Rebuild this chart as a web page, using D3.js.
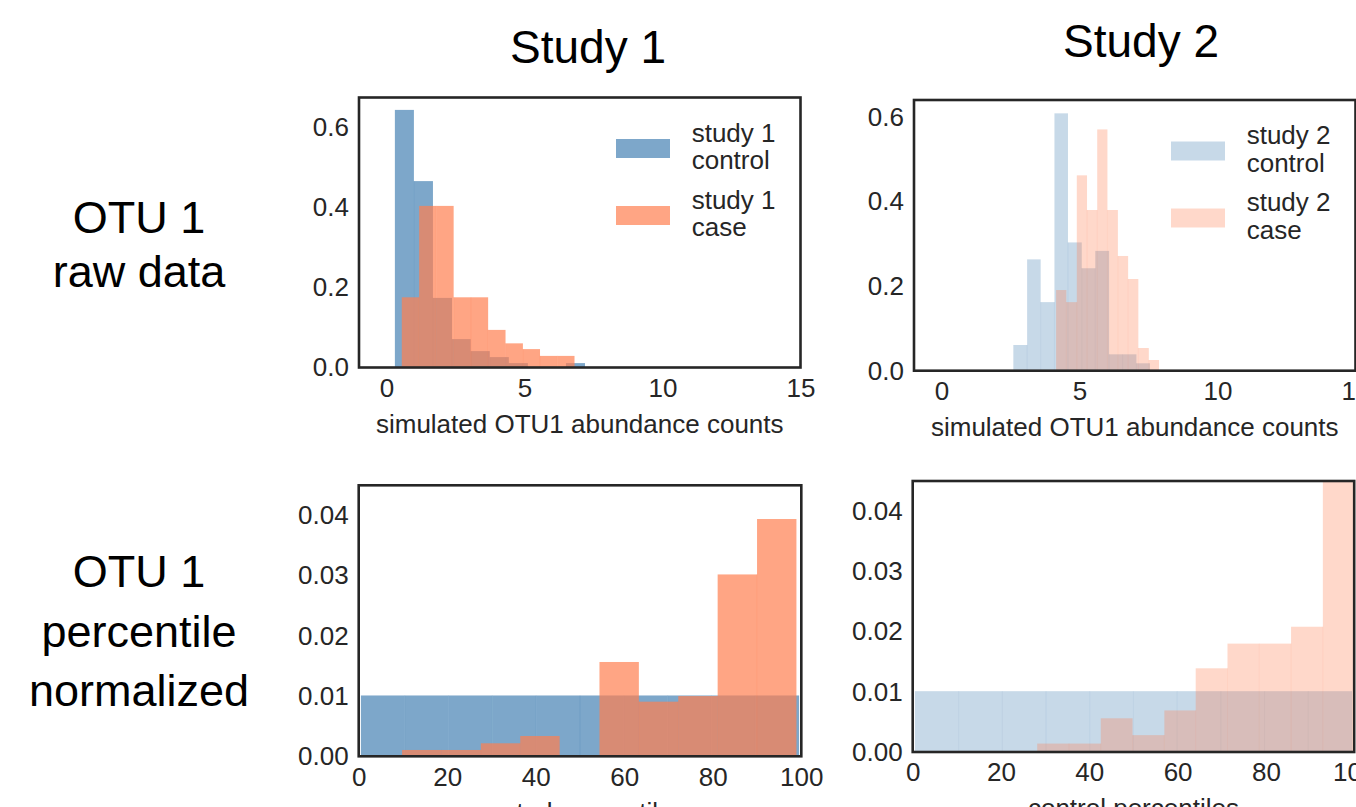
<!DOCTYPE html>
<html>
<head>
<meta charset="utf-8">
<script src="https://cdn.jsdelivr.net/npm/d3@7"></script>
<style>
	body { margin: 0; background: #fff; }
	svg { display: block; font-family: "Liberation Sans", Arial, sans-serif; }
</style>
</head>
<body>
<svg id="chart" width="1356" height="807"></svg>
<script>
// tick labels
var rawXTicks = [0, 5, 10, 15];
var rawYTicks = [0, 0.2, 0.4, 0.6];
var pctXTicks = [0, 20, 40, 60, 80, 100];
var pctYTicks = [0, 0.01, 0.02, 0.03, 0.04];

var studyTitles = ["Study 1", "Study 2"];
var rowLabels = [["OTU 1", "raw data"], ["OTU 1", "percentile", "normalized"]];

// raw counts, density histograms (bin edges + heights)
var study1ControlEdges = [0.30, 0.99, 1.68, 2.37, 3.05, 3.74, 4.43, 5.12, 5.81, 6.50, 7.19];
var study1ControlDensity = [0.644, 0.466, 0.174, 0.071, 0.041, 0.026, 0.011, 0, 0, 0.011];
var study1CaseEdges = [0.55, 1.18, 1.80, 2.43, 3.06, 3.68, 4.31, 4.94, 5.56, 6.19, 6.81];
var study1CaseDensity = [0.1755, 0.404, 0.404, 0.1755, 0.1755, 0.094, 0.0604, 0.046, 0.029, 0.029];

var study2ControlEdges = [2.60, 3.10, 3.59, 4.09, 4.58, 5.08, 5.57, 6.07, 6.56, 7.06, 7.55];
var study2ControlDensity = [0.0607, 0.263, 0.162, 0.608, 0.303, 0.242, 0.283, 0.0387, 0.0387, 0.0175];
var study2CaseEdges = [4.15, 4.52, 4.90, 5.27, 5.64, 6.01, 6.39, 6.76, 7.13, 7.51, 7.88];
var study2CaseDensity = [0.1906, 0.162, 0.4615, 0.3796, 0.570, 0.3796, 0.271, 0.2166, 0.0536, 0.0253];

// percentile normalized
var pctControlEdges = [0.5, 10.4, 20.3, 30.2, 40.1, 50.0, 59.9, 69.8, 79.7, 89.6, 99.5];
var pctControlDensity = [0.0101, 0.0101, 0.0101, 0.0101, 0.0101, 0.0101, 0.0101, 0.0101, 0.0101, 0.0101];
var study1PctCaseEdges = [9.8, 18.7, 27.6, 36.5, 45.4, 54.4, 63.3, 72.2, 81.1, 90.0, 98.9];
var study1PctCaseDensity = [0.00105, 0.00105, 0.00216, 0.00337, 0, 0.01566, 0.00907, 0.0100, 0.0302, 0.0394];
var study2PctCaseEdges = [28.2, 35.4, 42.6, 49.8, 57.0, 64.1, 71.3, 78.5, 85.7, 92.9, 100.0];
var study2PctCaseDensity = [0.0014, 0.0014, 0.0056, 0.0028, 0.0069, 0.0139, 0.0180, 0.0180, 0.0208, 0.0510];

var controlColor = "steelblue",
	caseColor = "coral",
	textColor = "#262626",
	fontSize = 26;

var svg = d3.select("#chart");

function makePanel(svg, id, box, opts)
{
	var x = d3.scaleLinear()
		.domain(opts.xDomain)
		.range([box.left, box.left + box.width]);
	var y = d3.scaleLinear()
		.domain(opts.yDomain)
		.range([box.top + box.height, box.top]);

	svg.append("clipPath")
		.attr("id", id)
		.append("rect")
			.attr("x", box.left)
			.attr("y", box.top)
			.attr("width", box.width)
			.attr("height", box.height);

	var g = svg.append("g").attr("clip-path", "url(#" + id + ")");

	opts.series.forEach(function(s)
	{
		var bins = s.heights.map(function(h, i){ return {x0: s.edges[i], x1: s.edges[i + 1], h: h}; });

		g.append("g")
			.selectAll("rect")
			.data(bins)
			.enter().append("rect")
				.attr("x", function(d){ return x(d.x0); })
				.attr("width", function(d){ return x(d.x1) - x(d.x0); })
				.attr("y", function(d){ return y(d.h); })
				.attr("height", function(d){ return y(0) - y(d.h); })
				.attr("fill", s.color)
				.attr("fill-opacity", s.alpha);

		// faint seams where neighbouring bars meet
		var seams = bins.slice(1).map(function(d, i){ return {x: d.x0, h: Math.min(d.h, bins[i].h)}; })
			.filter(function(d){ return d.h > 0; });
		g.append("g")
			.selectAll("line")
			.data(seams)
			.enter().append("line")
				.attr("x1", function(d){ return x(d.x); })
				.attr("x2", function(d){ return x(d.x); })
				.attr("y1", y(0))
				.attr("y2", function(d){ return y(d.h); })
				.attr("stroke", s.color)
				.attr("stroke-opacity", s.alpha * 0.4)
				.attr("stroke-width", 0.8);
	});

	var xAxis = svg.append("g")
		.attr("transform", "translate(0," + (box.top + box.height) + ")")
		.call(d3.axisBottom(x).tickValues(opts.xTicks).tickSize(0).tickPadding(11).tickFormat(d3.format("d")));
	var yAxis = svg.append("g")
		.attr("transform", "translate(" + box.left + ",0)")
		.call(d3.axisLeft(y).tickValues(opts.yTicks).tickSize(0).tickPadding(10).tickFormat(d3.format(opts.yFormat)));

	[xAxis, yAxis].forEach(function(a)
	{
		a.select(".domain").remove();
		a.attr("font-family", null).attr("font-size", null);
		a.selectAll("text")
			.attr("font-size", fontSize)
			.attr("fill", textColor);
	});

	svg.append("text")
		.attr("x", box.left + box.width / 2)
		.attr("y", box.top + box.height + 65)
		.attr("text-anchor", "middle")
		.attr("font-size", fontSize)
		.attr("fill", textColor)
		.text(opts.xLabel);

	svg.append("rect")
		.attr("x", box.left)
		.attr("y", box.top)
		.attr("width", box.width)
		.attr("height", box.height)
		.attr("fill", "none")
		.attr("stroke", textColor)
		.attr("stroke-width", 2.6);

	if(opts.legend)
	{
		var legend = svg.append("g")
			.attr("transform", "translate(" + (box.left + 257) + "," + (box.top + 41.5) + ")")
			.selectAll("g")
			.data(opts.legend)
			.enter().append("g")
				.attr("transform", function(d, i){ return "translate(0," + (i * 67) + ")"; });

		legend.append("rect")
			.attr("width", 54)
			.attr("height", 19)
			.attr("fill", function(d){ return d.color; })
			.attr("fill-opacity", function(d){ return d.alpha; });

		legend.append("text")
			.attr("font-size", fontSize)
			.attr("fill", textColor)
			.selectAll("tspan")
			.data(function(d){ return d.lines; })
			.enter().append("tspan")
				.attr("x", 75.7)
				.attr("y", function(d, i){ return 2.7 + i * 27.3; })
				.text(function(d){ return d; });
	}
}

makePanel(svg, "clipA", {left: 359, top: 97.5, width: 441.5, height: 270}, {
	xDomain: [-1, 15], yDomain: [0, 0.675],
	xTicks: rawXTicks, yTicks: rawYTicks, yFormat: ".1f",
	xLabel: "simulated OTU1 abundance counts",
	series: [
		{edges: study1ControlEdges, heights: study1ControlDensity, color: controlColor, alpha: 0.7},
		{edges: study1CaseEdges, heights: study1CaseDensity, color: caseColor, alpha: 0.7}
	],
	legend: [
		{lines: ["study 1", "control"], color: controlColor, alpha: 0.7},
		{lines: ["study 1", "case"], color: caseColor, alpha: 0.7}
	]
});

makePanel(svg, "clipB", {left: 914, top: 100, width: 441.5, height: 270.7}, {
	xDomain: [-1, 15], yDomain: [0, 0.6395],
	xTicks: rawXTicks, yTicks: rawYTicks, yFormat: ".1f",
	xLabel: "simulated OTU1 abundance counts",
	series: [
		{edges: study2ControlEdges, heights: study2ControlDensity, color: controlColor, alpha: 0.3},
		{edges: study2CaseEdges, heights: study2CaseDensity, color: caseColor, alpha: 0.3}
	],
	legend: [
		{lines: ["study 2", "control"], color: controlColor, alpha: 0.3},
		{lines: ["study 2", "case"], color: caseColor, alpha: 0.3}
	]
});

makePanel(svg, "clipC", {left: 358.7, top: 485.3, width: 442.6, height: 271}, {
	xDomain: [0, 100], yDomain: [0, 0.045],
	xTicks: pctXTicks, yTicks: pctYTicks, yFormat: ".2f",
	xLabel: "control percentiles",
	series: [
		{edges: pctControlEdges, heights: pctControlDensity, color: controlColor, alpha: 0.7},
		{edges: study1PctCaseEdges, heights: study1PctCaseDensity, color: caseColor, alpha: 0.7}
	]
});

makePanel(svg, "clipD", {left: 912.7, top: 481, width: 441.5, height: 271}, {
	xDomain: [0, 100], yDomain: [0, 0.045],
	xTicks: pctXTicks, yTicks: pctYTicks, yFormat: ".2f",
	xLabel: "control percentiles",
	series: [
		{edges: pctControlEdges, heights: pctControlDensity, color: controlColor, alpha: 0.3},
		{edges: study2PctCaseEdges, heights: study2PctCaseDensity, color: caseColor, alpha: 0.3}
	]
});

// column titles
svg.selectAll(".studyTitle")
	.data(studyTitles)
	.enter().append("text")
		.attr("class", "studyTitle")
		.attr("x", function(d, i){ return [588, 1141][i]; })
		.attr("y", function(d, i){ return [63.3, 56.7][i]; })
		.attr("text-anchor", "middle")
		.attr("font-size", 46)
		.attr("fill", "#000")
		.text(function(d){ return d; });

// row labels
var rowBaselines = [[233.3, 286.7], [586.7, 646.7, 706]];
svg.selectAll(".rowLabel")
	.data(rowLabels)
	.enter().append("text")
		.attr("class", "rowLabel")
		.attr("text-anchor", "middle")
		.attr("font-size", 45)
		.attr("fill", "#000")
	.selectAll("tspan")
	.data(function(d, i){ return d.map(function(t, j){ return {t: t, y: rowBaselines[i][j]}; }); })
	.enter().append("tspan")
		.attr("x", 139)
		.attr("y", function(d){ return d.y; })
		.text(function(d){ return d.t; });
</script>
</body>
</html>
